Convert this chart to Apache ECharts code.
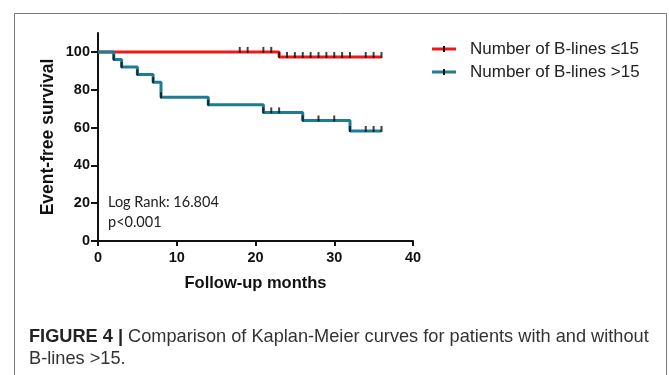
<!DOCTYPE html>
<html>
<head>
<meta charset="utf-8">
<script src="https://cdn.jsdelivr.net/npm/echarts@6/dist/echarts.min.js"></script>
<style>
html,body{margin:0;padding:0;background:#fff;}
#c{width:669px;height:375px;}
</style>
</head>
<body>
<div id="c"></div>
<script>
// ---- data ----
const seriesNames = ['Number of B-lines \u226415', 'Number of B-lines >15'];
const redTimes = [0, 23, 36];
const redSurv = [100, 97.3, 97.3];
const redCensorTimes = [18, 19, 21, 22, 24, 25, 26, 27, 28, 29, 30, 31, 32, 34, 35, 36];
const redCensorSurv = [100, 100, 100, 100, 97.3, 97.3, 97.3, 97.3, 97.3, 97.3, 97.3, 97.3, 97.3, 97.3, 97.3, 97.3];
const blueTimes = [0, 2, 3, 5, 7, 8, 14, 21, 26, 32, 36];
const blueSurv = [100, 96, 92, 88, 84, 76, 72, 68, 63.75, 58.2, 58.2];
const blueCensorTimes = [22, 23, 28, 30, 34, 35, 36];
const blueCensorSurv = [68, 68, 63.75, 63.75, 58.2, 58.2, 58.2];
const xTicks = [0, 10, 20, 30, 40];
const yTicks = [0, 20, 40, 60, 80, 100];
const statText = ['Log Rank: 16.804', 'p<0.001'];
const captionBold = 'FIGURE 4 |';
const captionLine1 = ' Comparison of Kaplan-Meier curves for patients with and without';
const captionLine2 = 'B-lines >15.';

const RED = '#f01717';
const BLUE = '#1b7c94';

function pairs(xs, ys) { return xs.map((x, i) => [x, ys[i]]); }
function dropPoints(xs, ys) {
  const out = [];
  for (let i = 1; i < xs.length; i++) if (ys[i] < ys[i - 1]) out.push([xs[i], ys[i]]);
  return out;
}
const marks = [].concat(
  pairs(redCensorTimes, redCensorSurv),
  pairs(blueCensorTimes, blueCensorSurv),
  dropPoints(redTimes, redSurv),
  dropPoints(blueTimes, blueSurv)
);

const chart = echarts.init(document.getElementById('c'), null, {renderer: 'canvas'});
const boldFont = 'Liberation Sans, Arial, sans-serif';
chart.setOption({
  animation: false,
  backgroundColor: '#fff',
  grid: {left: 98, right: 256, top: 33, bottom: 134, containLabel: false},
  legend: {
    data: seriesNames,
    orient: 'vertical',
    left: 432, top: 40,
    padding: 0,
    itemWidth: 24, itemHeight: 3,
    itemGap: 5,
    icon: 'rect',
    textStyle: {fontFamily: boldFont, fontSize: 17, color: '#222', lineHeight: 18, padding: [0, 0, 0, 9]}
  },
  xAxis: {
    type: 'value', min: 0, max: 40, interval: 10,
    name: 'Follow-up months', nameLocation: 'middle', nameGap: 34,
    nameTextStyle: {fontFamily: boldFont, fontWeight: 'bold', fontSize: 16.5, color: '#111'},
    axisLine: {show: true, lineStyle: {color: '#111', width: 2}},
    axisTick: {show: true, length: 5, lineStyle: {color: '#111', width: 2}, customValues: xTicks},
    axisLabel: {fontFamily: boldFont, fontWeight: 'bold', fontSize: 14.5, color: '#111', margin: 9, customValues: xTicks},
    splitLine: {show: false}
  },
  yAxis: {
    type: 'value', min: 0, max: 110, interval: 20,
    name: 'Event-free survival', nameLocation: 'middle', nameGap: 41,
    nameTextStyle: {fontFamily: boldFont, fontWeight: 'bold', fontSize: 17.5, color: '#111'},
    axisLine: {show: true, lineStyle: {color: '#111', width: 2}},
    axisTick: {show: true, length: 7, lineStyle: {color: '#111', width: 2}, customValues: yTicks},
    axisLabel: {fontFamily: boldFont, fontWeight: 'bold', fontSize: 14.5, color: '#111', margin: 8, customValues: yTicks},
    splitLine: {show: false}
  },
  series: [
    {
      name: seriesNames[0], type: 'line', step: 'end', data: pairs(redTimes, redSurv),
      showSymbol: false, symbol: 'none', lineStyle: {color: RED, width: 3}, itemStyle: {color: RED}, z: 2
    },
    {
      name: seriesNames[1], type: 'line', step: 'end', data: pairs(blueTimes, blueSurv),
      showSymbol: false, symbol: 'none', lineStyle: {color: BLUE, width: 3}, itemStyle: {color: BLUE}, z: 3
    },
    {
      name: 'censor', type: 'scatter', data: marks, symbol: 'rect', symbolSize: [2, 6], symbolOffset: [0, -2],
      itemStyle: {color: '#111'}, z: 4, silent: true
    }
  ],
  graphic: [
    {type: 'rect', shape: {x: 14.5, y: 13.5, width: 652, height: 380}, style: {fill: 'none', stroke: '#777', lineWidth: 1}, silent: true},
    {type: 'rect', shape: {x: 443, y: 46, width: 2, height: 6}, style: {fill: '#111'}, z: 100},
    {type: 'rect', shape: {x: 443, y: 69, width: 2, height: 6}, style: {fill: '#111'}, z: 100},
    {type: 'text', left: 108, top: 195, style: {text: statText[0], font: '14.5px Lato, "Open Sans", sans-serif', fill: '#222'}},
    {type: 'text', left: 108, top: 215, style: {text: statText[1], font: '14.5px Lato, "Open Sans", sans-serif', fill: '#222'}},
    {type: 'text', left: 29, top: 328, style: {
      text: '{b|' + captionBold + '}{r|' + captionLine1 + '}',
      rich: {
        b: {fontFamily: 'Liberation Sans, Arial, sans-serif', fontWeight: 'bold', fontSize: 18.2, fill: '#222'},
        r: {fontFamily: 'Liberation Sans, Arial, sans-serif', fontSize: 18.2, fill: '#333'}
      }
    }},
    {type: 'text', left: 29, top: 350, style: {text: captionLine2, font: '18.2px Liberation Sans, Arial, sans-serif', fill: '#333'}}
  ]
});
</script>
</body>
</html>
